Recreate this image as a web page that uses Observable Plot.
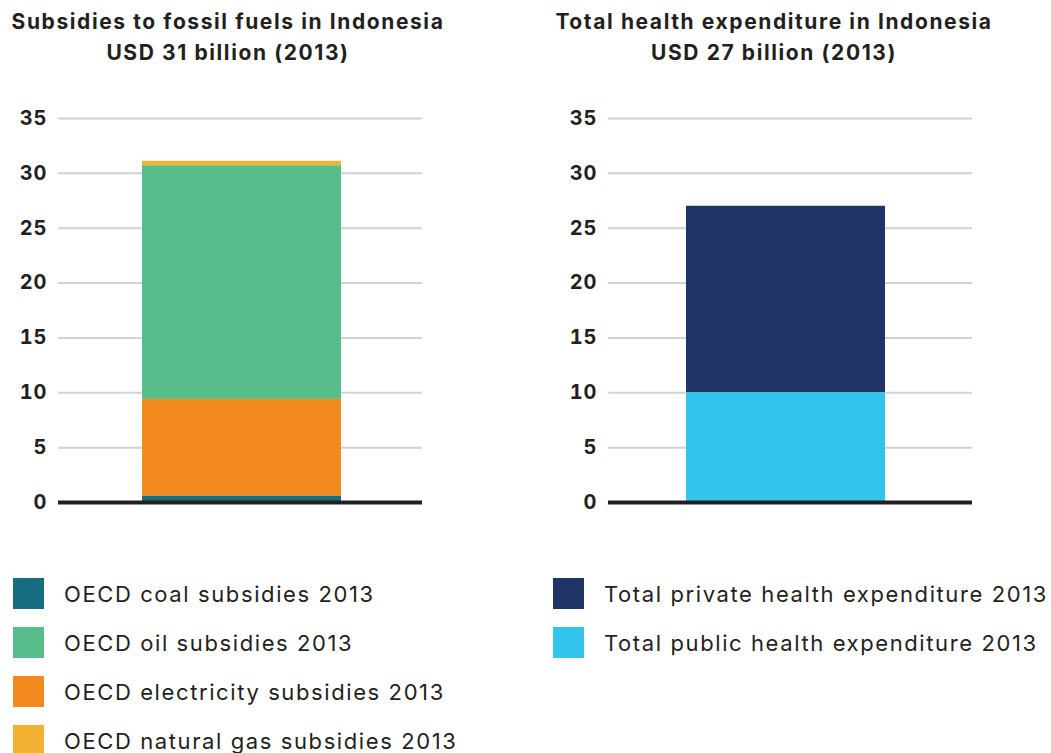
<!DOCTYPE html>
<html>
<head>
<meta charset="utf-8">
<script src="https://cdn.jsdelivr.net/npm/d3@7"></script>
<script src="https://cdn.jsdelivr.net/npm/@observablehq/plot@0.6"></script>
<style>
  html, body { margin: 0; padding: 0; background: #fff; }
  body { width: 1051px; height: 753px; position: relative; overflow: hidden; font-family: "Inter", "Lato", sans-serif; color: #231f20; }
  .title { position: absolute; top: 6px; width: 540px; text-align: center; font-weight: 700; font-size: 21px; line-height: 31px; letter-spacing: 1.6px; }
  .chart { position: absolute; top: 100px; }
  .legend { position: absolute; top: 578px; }
  .item { display: flex; align-items: center; height: 31px; margin-bottom: 18px; font-size: 22px; white-space: nowrap; letter-spacing: 1.6px; }
  .sw { width: 31px; height: 31px; margin-right: 20px; flex: none; }
</style>
</head>
<body>
<div class="title" style="left:-42px" id="t1"></div>
<div class="title" style="left:504px" id="t2"></div>
<div class="chart" style="left:0px" id="c1"></div>
<div class="chart" style="left:550px" id="c2"></div>
<div class="legend" style="left:13px" id="l1"></div>
<div class="legend" style="left:553px" id="l2"></div>
<script>
// ---- data ----
const fossilTitle = ["Subsidies to fossil fuels in Indonesia", "USD 31 billion (2013)"];
const healthTitle = ["Total health expenditure in Indonesia", "USD 27 billion (2013)"];

const fossilCategories = ["OECD coal subsidies 2013", "OECD oil subsidies 2013", "OECD electricity subsidies 2013", "OECD natural gas subsidies 2013"];
const fossilValues = [0.6, 21.3, 8.8, 0.4];
const fossilColors = ["#176e80", "#57be8b", "#f28a20", "#f4b235"];
const fossilStackOrder = ["OECD coal subsidies 2013", "OECD electricity subsidies 2013", "OECD oil subsidies 2013", "OECD natural gas subsidies 2013"];

const healthCategories = ["Total private health expenditure 2013", "Total public health expenditure 2013"];
const healthValues = [17.0, 10.0];
const healthColors = ["#1f3566", "#33c4ec"];
const healthStackOrder = ["Total public health expenditure 2013", "Total private health expenditure 2013"];

const yTicks = [0, 5, 10, 15, 20, 25, 30, 35];

function makeChart(cats, vals, colors, order, align) {
  const rows = cats.map((c, i) => ({group: "bar", cat: c, value: vals[i]}));
  return Plot.plot({
    width: 430,
    height: 420,
    marginLeft: 58,
    marginRight: 8,
    marginTop: 18,
    marginBottom: 18,
    style: {fontFamily: "Inter, Lato, sans-serif", fontSize: "20px", fontWeight: "700", letterSpacing: "1px", color: "#231f20", background: "transparent"},
    x: {axis: null, domain: ["bar"], padding: 0.293, align},
    y: {domain: [0, 35], ticks: yTicks, tickSize: 0, tickPadding: 11, label: null},
    color: {domain: cats, range: colors},
    marks: [
      Plot.ruleY(yTicks.filter(d => d !== 0), {stroke: "#d2d2d2", strokeWidth: 2}),
      Plot.barY(rows, Plot.stackY({order}, {x: "group", y: "value", z: "cat", fill: "cat"})),
      Plot.ruleY([0], {stroke: "#231f20", strokeWidth: 4})
    ]
  });
}

function makeLegend(el, cats, colors) {
  cats.forEach((c, i) => {
    const it = document.createElement("div");
    it.className = "item";
    const sw = document.createElement("div");
    sw.className = "sw";
    sw.style.background = colors[i];
    const tx = document.createElement("span");
    tx.textContent = c;
    it.appendChild(sw); it.appendChild(tx);
    el.appendChild(it);
  });
}

document.getElementById("t1").innerHTML = fossilTitle.join("<br>");
document.getElementById("t2").innerHTML = healthTitle.join("<br>");
document.getElementById("c1").appendChild(makeChart(fossilCategories, fossilValues, fossilColors, fossilStackOrder, 0.51));
document.getElementById("c2").appendChild(makeChart(healthCategories, healthValues, healthColors, healthStackOrder, 0.47));
makeLegend(document.getElementById("l1"), fossilCategories, fossilColors);
makeLegend(document.getElementById("l2"), healthCategories, healthColors);
</script>
</body>
</html>
